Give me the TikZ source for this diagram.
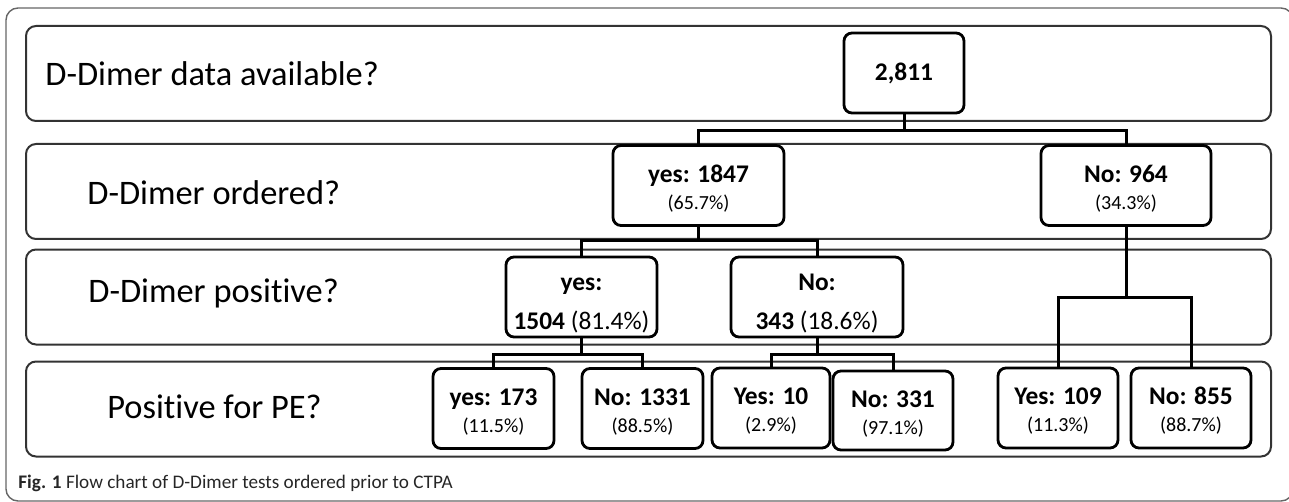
\documentclass[tikz,border=0pt]{standalone}
\usepackage{fontspec}
\setmainfont{Carlito}[Ligatures={NoCommon}]
\usetikzlibrary{positioning}
\newcommand{\pct}{\fontsize{10}{12}\selectfont}
\newcommand{\lift}{\rule{0pt}{11.5pt}}

\begin{document}
\begin{tikzpicture}[x=0.5pt,y=-0.5pt,
  band/.style={draw=black!80,line width=1pt,rounded corners=5pt,minimum width=622.5pt,minimum height=47.5pt,inner sep=0pt},
  question/.style={anchor=west,inner sep=0pt,font=\fontsize{17.2}{20}\selectfont},
  count/.style={draw,line width=1.4pt,rounded corners=4pt,align=center,inner sep=0pt,minimum height=40pt,font=\fontsize{12.7}{13.5}\bfseries},
  link/.style={line width=1.5pt}]
\useasboundingbox (0,0) rectangle (1289,502);
% outer frame
\draw [black!60,line width=0.7pt,rounded corners=6pt] (6,8) rectangle (1293,501);
% rows
\node [band] (rowA) at (648.5,73.5) {};
\node [band] (rowB) at (648.5,191.5) {};
\node [band] (rowC) at (648.5,297) {};
\node [band] (rowD) at (648.5,409) {};
\node [question] (qA) at (45,74) {D-Dimer data available?};
\node [question] (qB) at (87,193) {D-Dimer ordered?};
\node [question] (qC) at (88,293) {D-Dimer positive?};
\node [question] (qD) at (107,407) {Positive for PE?};
% counts
\node [count,minimum width=60pt] (total) at (904,73) {2,811};
\node [count,minimum width=85.5pt] (ordYes) at (698.5,185.5) {\lift yes: 1847\\{\pct\mdseries (65.7\%)}};
\node [count,minimum width=85pt] (ordNo) at (1126,185.5) {\lift No: 964\\{\pct\mdseries (34.3\%)}};
\node [count,minimum width=75.5pt] (posYes) at (581.5,297) {\rule{0pt}{14.5pt}yes:\\[6pt]1504 {\mdseries (81.4\%)}};
\node [count,minimum width=86pt] (posNo) at (817,297) {\rule{0pt}{14.5pt}No:\\[6pt]343 {\mdseries (18.6\%)}};
\node [count,minimum width=60.5pt] (peA) at (493.5,408.5) {\lift yes: 173\\{\pct\mdseries (11.5\%)}};
\node [count,minimum width=60.5pt] (peB) at (642.5,408.5) {\lift No: 1331\\{\pct\mdseries (88.5\%)}};
\node [count,minimum width=59pt] (peC) at (771,408) {\lift Yes: 10\\{\pct\mdseries (2.9\%)}};
\node [count,minimum width=60pt,minimum height=39.5pt] (peD) at (893,410.5) {\lift No: 331\\{\pct\mdseries (97.1\%)}};
\node [count,minimum width=60pt] (peE) at (1058,408) {\lift Yes: 109\\{\pct\mdseries (11.3\%)}};
\node [count,minimum width=60pt] (peF) at (1191,408) {\lift No: 855\\{\pct\mdseries (88.7\%)}};
% links
\draw [link] (total.south) -- ++(0,16) -| (ordYes.north);
\draw [link] (total.south) -- ++(0,16) -| (ordNo.north);
\draw [link] (ordYes.south) -- ++(0,14) -| (posYes.north);
\draw [link] (ordYes.south) -- ++(0,14) -| (posNo.north);
\draw [link] (posYes.south) -- ++(0,16) -| (peA.north);
\draw [link] (posYes.south) -- ++(0,16) -| (peB.north);
\draw [link] (posNo.south) -- ++(0,16) -| (peC.north);
\draw [link] (posNo.south) -- ++(0,16) -| (peD.north);
\draw [link] (ordNo.south) -- ++(0,71) -| (peE.north);
\draw [link] (ordNo.south) -- ++(0,71) -| (peF.north);
% caption
\node [anchor=west,inner sep=0pt,text=black!85,font=\fontsize{9.6}{11}\selectfont] (cap) at (18,483) {\textbf{Fig. 1} Flow chart of D-Dimer tests ordered prior to CTPA};
\end{tikzpicture}
\end{document}
